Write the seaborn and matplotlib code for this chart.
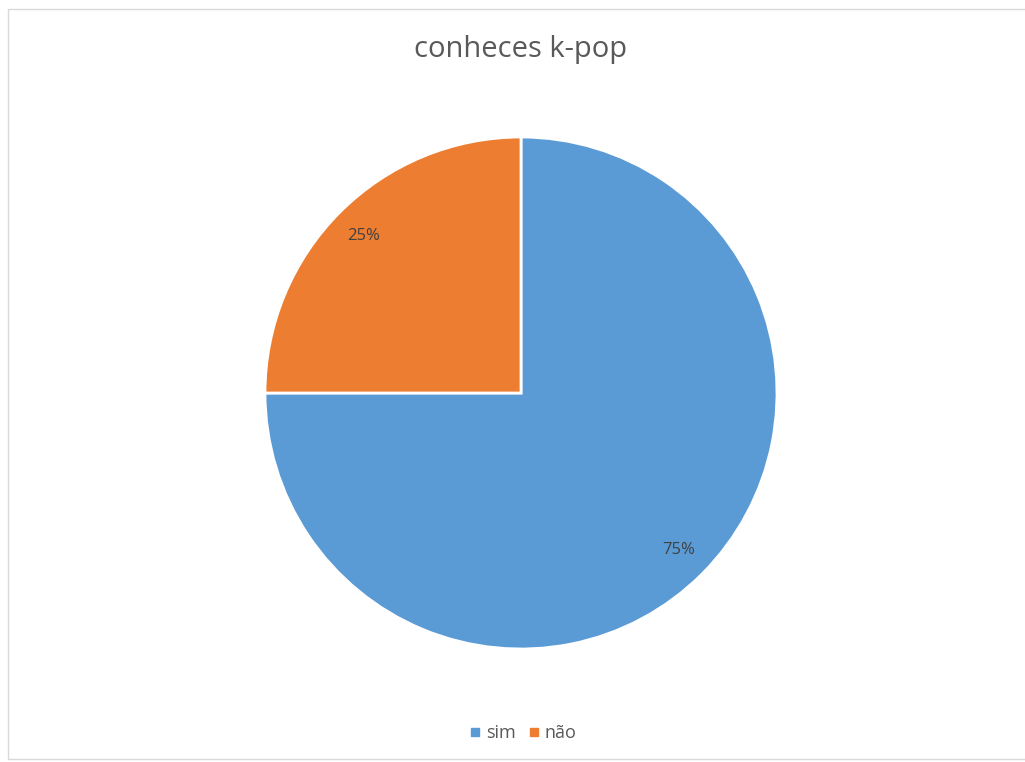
import matplotlib
matplotlib.use("Agg")
import matplotlib.pyplot as plt
from matplotlib.patches import Rectangle
from matplotlib.lines import Line2D
import seaborn as sns

sns.set_theme(style="white")
plt.rcParams["font.family"] = ["Open Sans", "DejaVu Sans"]

categories = ["sim", "não"]
values = [75, 25]
colors = ["#5b9bd5", "#ed7d31"]
title = "conheces k-pop"

W, H = 1025, 762
fig = plt.figure(figsize=(W / 100, H / 100), dpi=100)
fig.patch.set_facecolor("white")

# chart area frame
fig.add_artist(Rectangle((8 / W, 1 - 759 / H), (W + 5 - 8) / W, (759 - 9) / H,
                         transform=fig.transFigure, fill=False,
                         edgecolor="#d9d9d9", linewidth=1.0))

cx, cy, r = 521, 393, 256
ax = fig.add_axes([(cx - r) / W, 1 - (cy + r) / H, 2 * r / W, 2 * r / H])
wedges, texts, autotexts = ax.pie(
    values, colors=colors, startangle=90, counterclock=False,
    autopct="%1.0f%%", pctdistance=0.87,
    wedgeprops=dict(edgecolor="white", linewidth=2),
    textprops=dict(color="#404040", fontsize=12),
)
ax.set_xlim(-1, 1)
ax.set_ylim(-1, 1)
ax.set_aspect("equal")
ax.axis("off")

fig.text(521 / W, 1 - 49 / H, title, ha="center", va="center",
         fontsize=21, color="#595959")

handles = [Line2D([0], [0], marker="s", linestyle="", markersize=6,
                  markerfacecolor=c, markeredgecolor=c) for c in colors]
fig.legend(handles, categories, loc="center", bbox_to_anchor=(522 / W, 1 - 733 / H),
           ncol=2, frameon=False, fontsize=13, handletextpad=0.2,
           columnspacing=0.6, handlelength=0.8, labelcolor="#595959")

fig.savefig("out.png", dpi=100)
